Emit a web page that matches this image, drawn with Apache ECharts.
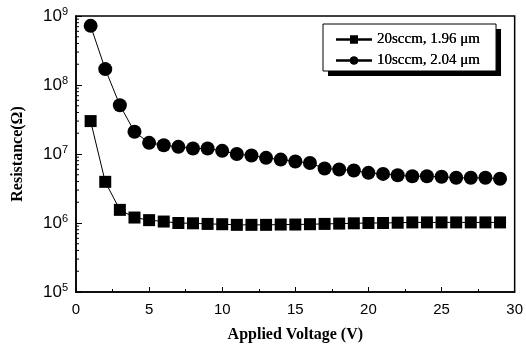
<!DOCTYPE html>
<html>
<head>
<meta charset="utf-8">
<script src="https://cdn.jsdelivr.net/npm/echarts@6/dist/echarts.min.js"></script>
<style>
  html, body { margin: 0; padding: 0; background: #fff; }
  #chart { width: 526px; height: 354px; }
</style>
</head>
<body>
<div id="chart"></div>
<script>
// applied voltage (V)
const voltage = [1, 2, 3, 4, 5, 6, 7, 8, 9, 10, 11, 12, 13, 14, 15,
  16, 17, 18, 19, 20, 21, 22, 23, 24, 25, 26, 27, 28, 29]

// resistance (ohm)
const res20sccm = [3.0e7, 3.95e6, 1.55e6, 1.2e6, 1.1e6, 1.05e6, 1.0e6, 0.99e6, 0.97e6, 0.96e6,
  0.94e6, 0.94e6, 0.94e6, 0.95e6, 0.95e6, 0.96e6, 0.97e6, 0.98e6, 0.99e6, 1.0e6,
  1.0e6, 1.01e6, 1.02e6, 1.02e6, 1.02e6, 1.02e6, 1.02e6, 1.02e6, 1.02e6]
const res10sccm = [7.2e8, 1.7e8, 5.1e7, 2.1e7, 1.45e7, 1.34e7, 1.27e7, 1.2e7, 1.2e7, 1.11e7,
  1.0e7, 9.5e6, 8.8e6, 8.3e6, 7.8e6, 7.4e6, 6.15e6, 5.96e6, 5.76e6, 5.33e6,
  5.15e6, 4.92e6, 4.76e6, 4.76e6, 4.67e6, 4.52e6, 4.52e6, 4.52e6, 4.37e6]

const seriesNames = ['20sccm, 1.96 μm', '10sccm, 2.04 μm']

// log axis minor ticks (2..9 in each decade)
const decades = [1e5, 1e6, 1e7, 1e8]
const minorFactors = [2, 3, 4, 5, 6, 7, 8, 9]
const minorTicks = []
decades.forEach(d => minorFactors.forEach(f => minorTicks.push([0, d * f])))

const chart = echarts.init(document.getElementById('chart'))

const sansFont = '"Liberation Sans", Arial, sans-serif'
const serifFont = '"Liberation Serif", "Times New Roman", serif'

const legendBase = {
  data: seriesNames,
  orient: 'vertical',
  left: 323,
  top: 24,
  padding: [8, 16, 3, 12],
  itemGap: 6,
  itemWidth: 36,
  itemHeight: 10,
  backgroundColor: '#fff',
  borderWidth: 1,
  textStyle: {
    fontFamily: serifFont,
    fontSize: 15,
    color: '#000'
  }
}

const option = {
  animation: false,
  backgroundColor: '#fff',
  grid: {
    left: 76,
    right: 10,
    top: 16,
    bottom: 62,
    show: true,
    borderColor: '#000',
    borderWidth: 1.5
  },
  legend: [
    // box casting the drop shadow (transparent border so only the fill casts it)
    Object.assign({}, legendBase, {
      borderColor: 'rgba(0,0,0,0)',
      shadowColor: '#000',
      shadowBlur: 0,
      shadowOffsetX: 5,
      shadowOffsetY: 5
    }),
    // the legend itself, drawn over it
    Object.assign({}, legendBase, {
      borderColor: '#000'
    })
  ],
  xAxis: {
    type: 'value',
    min: 0,
    max: 30,
    interval: 5,
    name: 'Applied Voltage (V)',
    nameLocation: 'middle',
    nameGap: 35,
    nameTextStyle: {
      fontFamily: serifFont,
      fontWeight: 'bold',
      fontSize: 16,
      color: '#000'
    },
    axisLine: { lineStyle: { color: '#000', width: 1.5 } },
    axisTick: { inside: true, length: 5, lineStyle: { color: '#000' } },
    minorTick: { show: true, splitNumber: 2, length: 3, lineStyle: { color: '#000' } },
    splitLine: { show: false },
    axisLabel: {
      fontFamily: sansFont,
      fontSize: 15,
      color: '#000',
      margin: 10
    }
  },
  yAxis: {
    type: 'log',
    logBase: 10,
    min: 1e5,
    max: 1e9,
    name: 'Resistance(Ω)',
    nameLocation: 'middle',
    nameGap: 50,
    nameTextStyle: {
      fontFamily: serifFont,
      fontWeight: 'bold',
      fontSize: 16,
      color: '#000'
    },
    axisLine: { lineStyle: { color: '#000', width: 1.5 } },
    axisTick: { inside: true, length: 6, lineStyle: { color: '#000' } },
    splitLine: { show: false },
    axisLabel: {
      margin: 8,
      color: '#000',
      formatter: (value) => '10{sup|' + Math.round(Math.log10(value)) + '}',
      rich: {
        sup: {
          fontFamily: sansFont,
          fontSize: 11,
          color: '#000',
          verticalAlign: 'top',
          padding: [0, 0, 8, 0]
        }
      },
      fontFamily: sansFont,
      fontSize: 17
    }
  },
  series: [
    {
      name: seriesNames[0],
      type: 'line',
      data: voltage.map((v, i) => [v, res20sccm[i]]),
      symbol: 'rect',
      symbolSize: 12,
      itemStyle: { color: '#000' },
      lineStyle: { color: '#000', width: 1 }
    },
    {
      name: seriesNames[1],
      type: 'line',
      data: voltage.map((v, i) => [v, res10sccm[i]]),
      symbol: 'circle',
      symbolSize: 14,
      itemStyle: { color: '#000' },
      lineStyle: { color: '#000', width: 1 }
    },
    {
      // minor ticks on the log axis
      type: 'custom',
      silent: true,
      data: minorTicks,
      renderItem: (params, api) => {
        const p = api.coord([0, api.value(1)])
        return {
          type: 'line',
          shape: { x1: p[0], y1: p[1], x2: p[0] + 3, y2: p[1] },
          style: { stroke: '#000', lineWidth: 1 }
        }
      }
    }
  ]
}

chart.setOption(option)
</script>
</body>
</html>
